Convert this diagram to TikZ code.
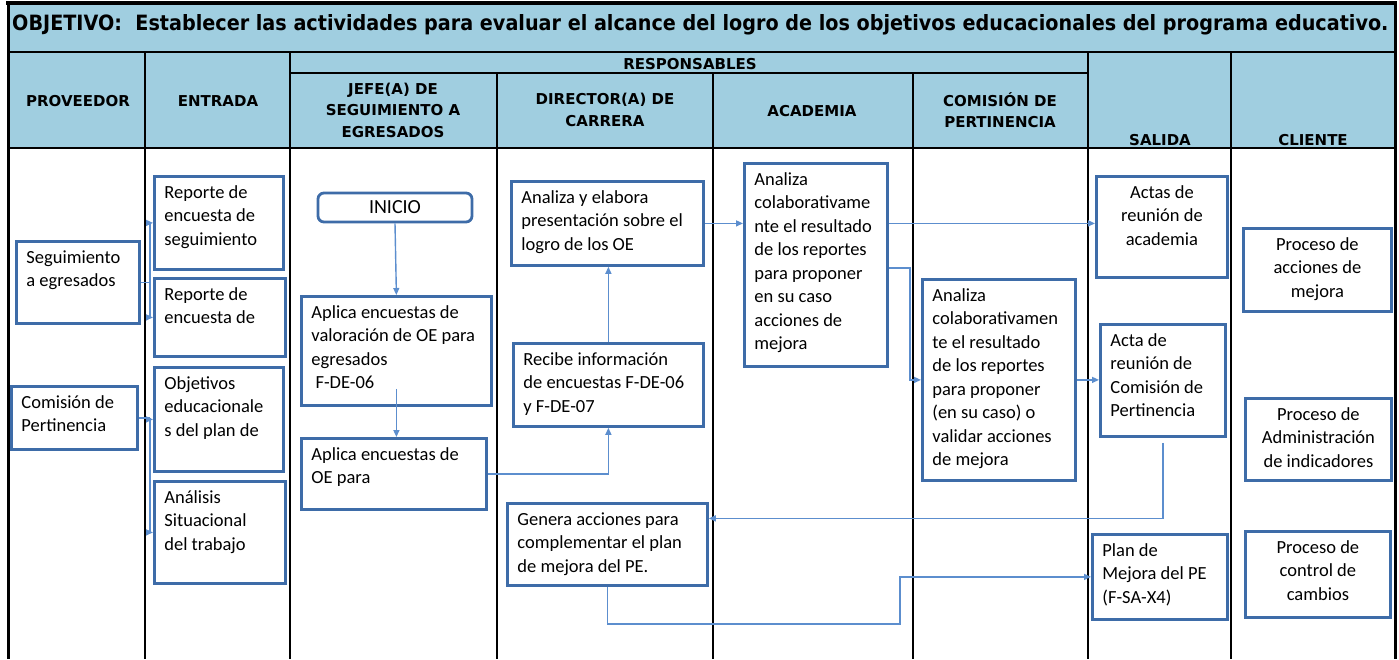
\documentclass[tikz,border=0pt]{standalone}
\usepackage{fontspec}
\setmainfont{Carlito}
\setsansfont{DejaVu Sans}
\usetikzlibrary{arrows.meta}
\definecolor{headblue}{RGB}{160,206,224}
\definecolor{boxblue}{RGB}{62,108,168}
\definecolor{lineblue}{RGB}{92,142,206}
\newcommand{\lbox}[3]{\parbox[t][#2pt][t]{#1pt}{\raggedright #3}}
\newcommand{\cbox}[3]{\parbox[t][#2pt][t]{#1pt}{\centering #3}}
\newcommand{\hdr}{\sffamily\bfseries\fontsize{15}{21.5}\selectfont}

\begin{document}
\begin{tikzpicture}[x=1pt,y=-1pt,
  box/.style={draw=boxblue, line width=2.8pt, inner xsep=10pt, inner ysep=9pt,
    anchor=north west, font=\fontsize{18.5}{23.5}\selectfont},
  conn/.style={draw=lineblue, line width=1.4pt},
  arr/.style={conn, -{Triangle[length=7pt,width=6pt]}},
  rule/.style={line width=1.6pt},
  head/.style={align=center, font=\hdr, inner sep=0pt}]
\useasboundingbox (0,0) rectangle (1399,659);

% title and header band
\fill[headblue] (8,4) rectangle (1395,148);
\node[anchor=base west, inner sep=0pt] (title) at (12,30)
  {\resizebox{1376pt}{16pt}{\sffamily\bfseries OBJETIVO:\ \ Establecer las actividades para evaluar el alcance del logro de los objetivos educacionales del programa educativo.}};

% table rules
\draw[line width=3.5pt] (6,3) -- (1397,3);
\draw[line width=3pt] (8,3) -- (8,659);
\draw[line width=3pt] (1395,3) -- (1395,659);
\draw[line width=2.6pt] (8,52) -- (1395,52);
\draw[line width=2.6pt] (8,148) -- (1395,148);
\draw[rule] (290,73) -- (1088,73);
\foreach \cx in {145,290,1088,1231}
  \draw[rule] (\cx,52) -- (\cx,659);
\foreach \cx in {497,713,913}
  \draw[rule] (\cx,73) -- (\cx,659);

% column headings
\node[head] (hprov) at (78,101) {PROVEEDOR};
\node[head] (hent) at (218,101) {ENTRADA};
\node[head] (hresp) at (690,64) {RESPONSABLES};
\node[head] (hjefe) at (393,110) {JEFE(A) DE\\SEGUIMIENTO A\\EGRESADOS};
\node[head] (hdir) at (605,110) {DIRECTOR(A) DE\\CARRERA};
\node[head] (hacad) at (812,111) {ACADEMIA};
\node[head] (hcom) at (1000,110) {COMISIÓN DE\\PERTINENCIA};
\node[head] (hsal) at (1160,140) {SALIDA};
\node[head] (hcli) at (1313,140) {CLIENTE};

% proveedor
\node[box] (seg) at (15,240) {\lbox{103}{64}{Seguimiento\\a egresados}};
\node[box] (comp) at (10,385) {\lbox{106}{45}{Comisión de\\Pertinencia}};

% entrada
\node[box] (rep1) at (153,175) {\lbox{109}{75}{Reporte de\\encuesta de\\seguimiento}};
\node[box] (rep2) at (153,277) {\lbox{111}{60}{Reporte de\\encuesta de}};
\node[box] (obj) at (153,366) {\lbox{109}{86}{Objetivos\\educacionale\\s del plan de}};
\node[box] (ana) at (153,480) {\lbox{111}{84}{Análisis\\Situacional\\del trabajo}};

% jefe(a) de seguimiento
\node[draw=boxblue, line width=2.8pt, rounded corners=6pt, minimum width=154pt,
  minimum height=29pt, inner sep=0pt, font=\fontsize{20}{22}\selectfont] (inicio) at (395,207.5) {INICIO};
\node[box] (apl1) at (300,295) {\lbox{170}{91}{Aplica encuestas de\\valoración de OE para\\egresados\\\ F-DE-06}};
\node[box] (apl2) at (300,437) {\lbox{165}{53}{Aplica encuestas de\\OE para}};

% director(a) de carrera
\node[box] (anl) at (510,180) {\lbox{172}{66}{Analiza y elabora\\presentación sobre el\\logro de los OE}};
\node[box] (rec) at (512,342) {\lbox{170}{65}{Recibe información\\de encuestas F-DE-06\\y F-DE-07}};
\node[box] (gen) at (506,502) {\lbox{180}{64}{Genera acciones para\\complementar el plan\\de mejora del PE.}};

% academia
\node[box] (acad) at (743,162) {\lbox{123}{185}{Analiza\\colaborativame\\nte el resultado\\de los reportes\\para proponer\\en su caso\\acciones de\\mejora}};

% comision de pertinencia
\node[box] (comi) at (921,278) {\lbox{133}{183}{Analiza\\colaborativamen\\te el resultado\\de los reportes\\para proponer\\(en su caso) o\\validar acciones\\de mejora}};

% salida
\node[box] (actas) at (1095,175) {\cbox{111}{83}{Actas de\\reunión de\\academia}};
\node[box] (acta) at (1099,323) {\lbox{105}{94}{Acta de\\reunión de\\Comisión de\\Pertinencia}};
\node[box] (plan) at (1091,533) {\lbox{115}{67}{Plan de\\Mejora del PE\\(F-SA-X4)}};

% cliente
\node[box] (pam) at (1242,227) {\cbox{128}{65}{Proceso de\\acciones de\\mejora}};
\node[box] (pai) at (1244,397) {\cbox{126}{64}{Proceso de\\Administración\\de indicadores}};
\node[box] (pcc) at (1244,530) {\cbox{125}{68}{Proceso de\\control de\\cambios}};

% connectors
\draw[conn] (seg.east) -- ++(9,0) coordinate (segj);
\draw[arr] (segj) |- (rep1.west);
\draw[arr] (segj) |- (rep2.west);
\draw[conn] (comp.east) -- ++(11,0) coordinate (compj);
\draw[arr] (compj) |- (obj.west);
\draw[arr] (compj) |- (ana.west);
\draw[arr] (inicio.south) -- (apl1.north);
\draw[arr] ([yshift=18pt]apl1.south) -- (apl1.south |- apl2.north);
\draw[arr] (apl2.east) -| (rec.south);
\draw[arr] (rec.north) -- (rec.north |- anl.south);
\draw[arr] (anl.east) -- (acad.west |- anl.east);
\draw[arr] (acad.east |- anl.east) -- (actas.west |- anl.east);
\draw[arr] ([yshift=-3pt]acad.east) -- ++(21,0) |- (comi.west);
\draw[arr] (comi.east) -- (acta.west |- comi.east);
\draw[arr] ([yshift=-5pt]acta.south) |- ([yshift=26pt]gen.east);
\draw[arr] (gen.south) -- ++(0,37) -| ([xshift=-191pt]plan.west) -- (plan.west);
\end{tikzpicture}
\end{document}
